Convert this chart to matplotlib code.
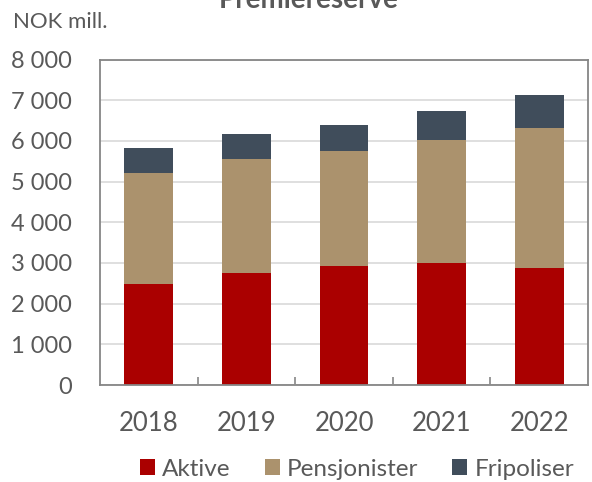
import matplotlib.pyplot as plt
import numpy as np
from matplotlib.ticker import FuncFormatter

plt.rcParams["font.family"] = ["Lato", "DejaVu Sans"]

years = ["2018", "2019", "2020", "2021", "2022"]
aktive = [2480, 2756, 2919, 3000, 2878]
pensjonister = [2740, 2789, 2829, 3033, 3439]
fripoliser = [610, 618, 650, 691, 805]

COLORS = {"Aktive": "#AA0000", "Pensjonister": "#AB926D", "Fripoliser": "#404D5B"}
TEXT = "#595959"
FRAME = "#868686"

fig = plt.figure(figsize=(5.92, 4.82), dpi=100)
ax = fig.add_axes([100 / 592, 1 - 385 / 482, 488 / 592, (385 - 59.5) / 482])

x = np.arange(len(years))
bottom = np.zeros(len(years))
for name, vals in [("Aktive", aktive), ("Pensjonister", pensjonister), ("Fripoliser", fripoliser)]:
    ax.bar(x, vals, width=0.5, bottom=bottom, color=COLORS[name], label=name, zorder=2)
    bottom += np.asarray(vals)

ax.set_xlim(-0.5, len(years) - 0.5)
ax.set_ylim(0, 8000)
ax.set_yticks(np.arange(0, 8001, 1000))
ax.yaxis.set_major_formatter(FuncFormatter(lambda v, _: f"{int(v):,}".replace(",", " ")))
ax.grid(axis="y", color="#D9D9D9", lw=1.2, zorder=0)
ax.tick_params(axis="y", length=0, pad=20, labelsize=17, labelcolor=TEXT)

ax.set_xticks(x)
ax.set_xticklabels(years)
ax.tick_params(axis="x", which="major", length=0, pad=19, labelsize=18.5, labelcolor=TEXT)
ax.set_xticks(x[:-1] + 0.5, minor=True)
ax.tick_params(axis="x", which="minor", direction="in", length=6, color=FRAME, width=1.2)

for s in ax.spines.values():
    s.set_color(FRAME)
    s.set_linewidth(1.3)

fig.text(13 / 592, 1 - 22 / 482, "NOK mill.", fontsize=16, color=TEXT, va="center", ha="left")
fig.text(309 / 592, 1 - 8 / 482, "Premiereserve", fontsize=20, fontweight="bold",
         color=TEXT, ha="center", va="baseline")

fig.legend(loc="center", bbox_to_anchor=(357 / 592, 1 - 469 / 482), ncol=3, frameon=False,
           fontsize=17.5, handlelength=0.62, handleheight=0.62, handletextpad=0.3,
           columnspacing=1.4, labelcolor=TEXT)

fig.savefig("out.png", dpi=100)
